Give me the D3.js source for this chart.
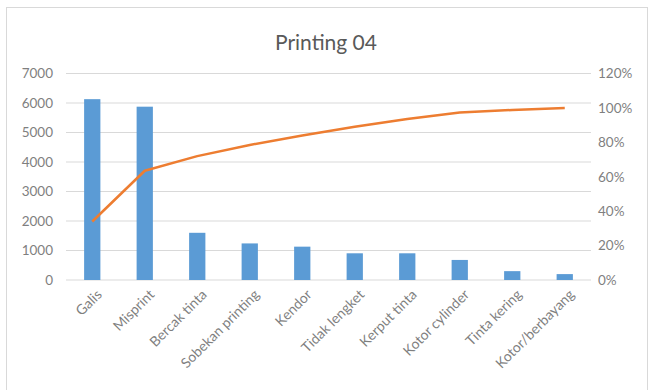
<!DOCTYPE html>
<html>
<head>
<meta charset="utf-8">
<script src="https://cdn.jsdelivr.net/npm/d3@7"></script>
<style>
  body { margin: 0; background: #fff; }
  svg text { font-family: Lato, "Open Sans", sans-serif; }
</style>
</head>
<body>
<div id="chart-area"></div>
<script>
// defect categories and counts
const categories = ["Galis", "Misprint", "Bercak tinta", "Sobekan printing", "Kendor",
    "Tidak lengket", "Kerput tinta", "Kotor cylinder", "Tinta kering", "Kotor/berbayang"];
const counts = [6130, 5875, 1600, 1240, 1130, 905, 905, 680, 300, 200];
const cumPct = [34, 63.5, 72, 78.5, 84, 89, 93.5, 97.4, 98.8, 100];
const leftTicks = [0, 1000, 2000, 3000, 4000, 5000, 6000, 7000];
const rightTicks = [0, 20, 40, 60, 80, 100, 120];

const width = 648, height = 390;
const margin = {top: 73.5, right: 57, bottom: 110, left: 66};
const innerW = width - margin.left - margin.right;
const innerH = height - margin.top - margin.bottom;

const svg = d3.select("#chart-area")
    .append("svg")
    .attr("width", width)
    .attr("height", height);

// chart frame
svg.append("rect")
    .attr("x", 6.5).attr("y", 7.5)
    .attr("width", 641).attr("height", 420)
    .attr("fill", "#fff")
    .attr("stroke", "#d9d9d9");

svg.append("text")
    .attr("x", 326).attr("y", 50)
    .attr("text-anchor", "middle")
    .attr("font-size", 21)
    .attr("fill", "#595959")
    .text("Printing 04");

const g = svg.append("g")
    .attr("transform", "translate(" + margin.left + "," + margin.top + ")");

const x = d3.scaleBand()
    .domain(categories)
    .range([0, innerW])
    .paddingInner(0.69)
    .paddingOuter(0.345);

const y = d3.scaleLinear().domain([0, 7000]).range([innerH, 0]);
const y2 = d3.scaleLinear().domain([0, 120]).range([innerH, 0]);

// gridlines
g.selectAll(".grid")
    .data(leftTicks)
    .enter().append("line")
    .attr("x1", 0).attr("x2", innerW)
    .attr("y1", d => y(d)).attr("y2", d => y(d))
    .attr("stroke", "#d9d9d9")
    .attr("stroke-width", 1);

// left axis
const yAxis = g.append("g")
    .call(d3.axisLeft(y).tickValues(leftTicks).tickSize(0).tickPadding(13)
        .tickFormat(d3.format("d")));
yAxis.select(".domain").remove();
yAxis.selectAll("text").attr("font-size", 13.5).attr("fill", "#7f7f7f");

// right axis
const y2Axis = g.append("g")
    .attr("transform", "translate(" + innerW + ",0)")
    .call(d3.axisRight(y2).tickValues(rightTicks).tickSize(0).tickPadding(7)
        .tickFormat(d => d + "%"));
y2Axis.select(".domain").remove();
y2Axis.selectAll("text").attr("font-size", 13.5).attr("fill", "#7f7f7f");

// bars
g.selectAll(".bar")
    .data(counts)
    .enter().append("rect")
    .attr("x", (d, i) => x(categories[i]))
    .attr("y", d => y(d))
    .attr("width", x.bandwidth())
    .attr("height", d => innerH - y(d))
    .attr("fill", "#5b9bd5");

// cumulative line
const line = d3.line()
    .x((d, i) => x(categories[i]) + x.bandwidth() / 2)
    .y(d => y2(d));

g.append("path")
    .datum(cumPct)
    .attr("d", line)
    .attr("fill", "none")
    .attr("stroke", "#ed7d31")
    .attr("stroke-width", 2.5)
    .attr("stroke-linejoin", "round");

// x labels, rotated
g.selectAll(".xlab")
    .data(categories)
    .enter().append("text")
    .attr("transform", d => "translate(" + (x(d) + x.bandwidth() / 2 + 7) + "," + (innerH + 12) + ") rotate(-45)")
    .attr("text-anchor", "end")
    .attr("dy", "0.35em")
    .attr("font-size", 14)
    .attr("fill", "#7f7f7f")
    .text(d => d);
</script>
</body>
</html>
